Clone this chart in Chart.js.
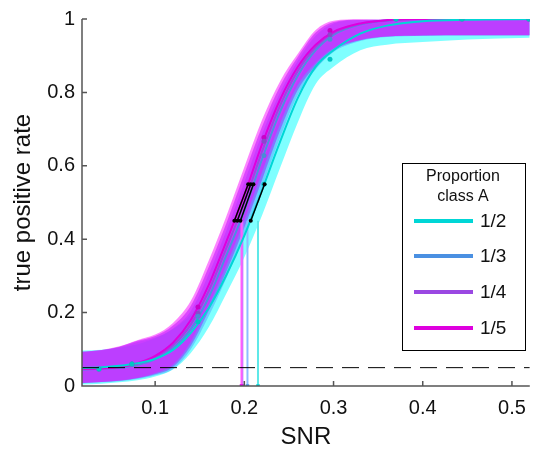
<!DOCTYPE html>
<html>
<head>
<meta charset="utf-8">
<script src="https://cdn.jsdelivr.net/npm/chart.js@4.4.1/dist/chart.umd.min.js"></script>
<style>
  html, body { margin: 0; padding: 0; background: #fff; }
</style>
</head>
<body>
<canvas id="c" width="536" height="450"></canvas>
<script>
// SNR grid used for the fitted curves and their bands
const snrGrid = [0.018, 0.04, 0.06, 0.08, 0.10, 0.12, 0.14, 0.16, 0.18, 0.20, 0.22, 0.24, 0.26, 0.28, 0.30, 0.33, 0.36, 0.40, 0.45, 0.52]

// fitted curves, one per proportion of class A
const fitHalf    = [0.049, 0.051, 0.055, 0.062, 0.074, 0.098, 0.145, 0.212, 0.303, 0.41, 0.535, 0.665, 0.785, 0.87, 0.915, 0.96, 0.982, 0.994, 0.998, 1.0]
const fitThird   = [0.045, 0.047, 0.050, 0.057, 0.073, 0.103, 0.155, 0.241, 0.357, 0.478, 0.619, 0.747, 0.846, 0.915, 0.957, 0.985, 0.996, 1.0, 1.0, 1.0]
const fitQuarter = [0.046, 0.048, 0.051, 0.060, 0.078, 0.111, 0.168, 0.259, 0.377, 0.50, 0.64, 0.764, 0.859, 0.923, 0.961, 0.986, 0.996, 1.0, 1.0, 1.0]
const fitFifth   = [0.046, 0.048, 0.052, 0.062, 0.082, 0.118, 0.18, 0.275, 0.395, 0.52, 0.66, 0.78, 0.87, 0.93, 0.965, 0.988, 0.997, 1.0, 1.0, 1.0]

// confidence bands (upper / lower)
const hiHalf    = [0.097, 0.099, 0.104, 0.114, 0.13, 0.155, 0.195, 0.262, 0.362, 0.479, 0.607, 0.731, 0.832, 0.915, 0.96, 0.99, 0.997, 0.998, 0.998, 0.998]
const loHalf    = [0.004, 0.006, 0.01, 0.016, 0.026, 0.045, 0.09, 0.16, 0.253, 0.351, 0.466, 0.594, 0.719, 0.823, 0.87, 0.915, 0.93, 0.937, 0.944, 0.949]
const hiThird   = [0.093, 0.097, 0.106, 0.12, 0.132, 0.157, 0.205, 0.305, 0.425, 0.556, 0.688, 0.80, 0.887, 0.955, 0.988, 0.997, 0.998, 0.998, 0.998, 0.998]
const loThird   = [0.007, 0.01, 0.013, 0.019, 0.029, 0.046, 0.10, 0.19, 0.295, 0.413, 0.543, 0.676, 0.793, 0.863, 0.91, 0.94, 0.951, 0.954, 0.955, 0.955]
const hiQuarter = [0.093, 0.098, 0.107, 0.123, 0.136, 0.165, 0.219, 0.324, 0.445, 0.578, 0.708, 0.817, 0.897, 0.963, 0.992, 0.998, 0.998, 0.998, 0.998, 0.998]
const loQuarter = [0.008, 0.011, 0.014, 0.021, 0.032, 0.052, 0.11, 0.205, 0.313, 0.432, 0.563, 0.696, 0.807, 0.872, 0.915, 0.942, 0.952, 0.955, 0.956, 0.956]
const hiFifth   = [0.093, 0.098, 0.108, 0.125, 0.14, 0.172, 0.232, 0.341, 0.464, 0.597, 0.726, 0.83, 0.905, 0.97, 0.995, 0.999, 0.998, 0.998, 0.998, 0.998]
const loFifth   = [0.008, 0.011, 0.015, 0.022, 0.035, 0.058, 0.12, 0.22, 0.33, 0.45, 0.583, 0.714, 0.82, 0.88, 0.92, 0.943, 0.952, 0.955, 0.956, 0.956]

// measured points
const snrMeasured = [0.037, 0.074, 0.148, 0.222, 0.296, 0.370, 0.444, 0.519]
const tprHalf    = [0.046, 0.06, 0.175, 0.55, 0.89, 1.0, 1.0, 1.0]
const tprThird   = [0.046, 0.06, 0.19, 0.628, 0.945, 1.0, 1.0, 1.0]
const tprQuarter = [0.046, 0.06, 0.198, 0.667, 0.957, 1.0, 1.0, 1.0]
const tprFifth   = [0.046, 0.06, 0.215, 0.677, 0.969, 1.0, 1.0, 1.0]

// threshold (tpr = 0.5) and slope segment (tpr 0.45 -> 0.55)
const thresholds = [0.2153, 0.2035, 0.1978, 0.1968]
const slopeLowX  = [0.2072, 0.1956, 0.1921, 0.1888]
const slopeHighX = [0.2227, 0.2102, 0.2072, 0.2043]
const slopeLowY = 0.45
const slopeHighY = 0.55
const chanceLevel = 0.05

const groups = ['1/2', '1/3', '1/4', '1/5']
const xTicks = [0.1, 0.2, 0.3, 0.4, 0.5]
const yTicks = [0, 0.2, 0.4, 0.6, 0.8, 1]
const xMin = 0.018
const xMax = 0.52

const lineColors  = ['#00d6d6', '#4a90e2', '#9a48e2', '#de00de']
const bandColors  = ['rgba(0,255,255,0.5)', 'rgba(70,150,255,0.45)', 'rgba(150,60,255,0.6)', 'rgba(250,0,255,0.48)']
const dotColors   = ['#00c4c4', '#4a8cd6', '#8c46cc', '#c800c8']
const vlineColors = ['#5ee8e8', '#8cbcff', '#c080ff', '#ff5cff']

const fits = [fitHalf, fitThird, fitQuarter, fitFifth]
const his = [hiHalf, hiThird, hiQuarter, hiFifth]
const los = [loHalf, loThird, loQuarter, loFifth]
const tprs = [tprHalf, tprThird, tprQuarter, tprFifth]

const pts = (xs, ys) => xs.map((x, i) => ({x: x, y: ys[i]}))

let datasets = []
// bands: lower (no fill) + upper filled down to lower
for (let g = 0; g < 4; g++) {
  let loIndex = datasets.length
  datasets.push({
    data: pts(snrGrid, los[g]), borderWidth: 0, pointRadius: 0, fill: false,
    cubicInterpolationMode: 'monotone', order: 40 - g * 10
  })
  datasets.push({
    data: pts(snrGrid, his[g]), borderWidth: 0, pointRadius: 0,
    backgroundColor: bandColors[g], fill: {target: loIndex},
    cubicInterpolationMode: 'monotone', order: 40 - g * 10
  })
}
// vertical threshold lines
for (let g = 0; g < 4; g++) {
  datasets.push({
    data: [{x: thresholds[g], y: 0}, {x: thresholds[g], y: slopeLowY}],
    borderColor: vlineColors[g], borderWidth: 2, pointRadius: [2.5, 0], pointStyle: 'rect',
    pointBackgroundColor: lineColors[g], pointBorderWidth: 0, order: 9 - g * 0.1
  })
}
// fitted curves (cyan on top)
const curveOrder = [2, 6, 5, 4]
for (let g = 0; g < 4; g++) {
  datasets.push({
    data: pts(snrGrid, fits[g]), borderColor: lineColors[g], borderWidth: 2,
    pointRadius: 0, fill: false, cubicInterpolationMode: 'monotone', order: curveOrder[g]
  })
}
// measured points (cyan drawn last)
for (let g = 0; g < 4; g++) {
  datasets.push({
    data: pts(snrMeasured, tprs[g]), showLine: false, pointRadius: 2.5,
    pointBackgroundColor: dotColors[g], pointBorderWidth: 0, order: 1.2 + g * 0.1
  })
}
// slope segments
for (let g = 0; g < 4; g++) {
  datasets.push({
    data: [{x: slopeLowX[g], y: slopeLowY}, {x: slopeHighX[g], y: slopeHighY}],
    borderColor: '#000', borderWidth: 1.5, pointRadius: 2,
    pointBackgroundColor: '#000', pointBorderWidth: 0, order: 1
  })
}
// chance level
datasets.push({
  data: [{x: xMin, y: chanceLevel}, {x: xMax, y: chanceLevel}],
  borderColor: '#000', borderWidth: 1, borderDash: [17, 9], pointRadius: 0, order: 0.5
})

const FONT = '"Liberation Sans", Arial, Helvetica, sans-serif'

const axesAndLegend = {
  id: 'axesAndLegend',
  afterDatasetsDraw(chart) {
    const ctx = chart.ctx
    const a = chart.chartArea
    const xs = chart.scales.x
    const ys = chart.scales.y
    ctx.save()
    ctx.strokeStyle = '#555'
    ctx.lineWidth = 1.5
    ctx.beginPath()
    ctx.moveTo(a.left, a.top)
    ctx.lineTo(a.left, a.bottom)
    ctx.lineTo(a.right, a.bottom)
    for (let v of xTicks) {
      let px = xs.getPixelForValue(v)
      ctx.moveTo(px, a.bottom)
      ctx.lineTo(px, a.bottom - 5)
    }
    for (let v of yTicks) {
      let py = ys.getPixelForValue(v)
      ctx.moveTo(a.left, py)
      ctx.lineTo(a.left + 5, py)
    }
    ctx.stroke()

    // legend
    const bx = 402.5, by = 163.5, bw = 123, bh = 187
    ctx.fillStyle = '#fff'
    ctx.fillRect(bx, by, bw, bh)
    ctx.lineWidth = 1
    ctx.strokeStyle = '#000'
    ctx.strokeRect(bx, by, bw, bh)
    ctx.fillStyle = '#111'
    ctx.textAlign = 'center'
    ctx.textBaseline = 'middle'
    ctx.font = '16px ' + FONT
    ctx.fillText('Proportion', 463, 177)
    ctx.fillText('class A', 463, 197)
    ctx.font = '19px ' + FONT
    ctx.textAlign = 'left'
    const rowY = [221, 256, 292, 328]
    for (let g = 0; g < groups.length; g++) {
      ctx.strokeStyle = lineColors[g]
      ctx.lineWidth = 4
      ctx.beginPath()
      ctx.moveTo(414, rowY[g])
      ctx.lineTo(473, rowY[g])
      ctx.stroke()
      ctx.fillStyle = '#111'
      ctx.fillText(groups[g], 480, rowY[g] + 1)
    }
    ctx.restore()
  }
}

new Chart(document.getElementById('c'), {
  type: 'line',
  data: {datasets: datasets},
  plugins: [axesAndLegend],
  options: {
    responsive: false,
    animation: false,
    devicePixelRatio: 1,
    events: [],
    layout: {padding: {left: 0, right: 1, top: 18, bottom: 0}},
    plugins: {
      legend: {display: false},
      tooltip: {enabled: false},
      filler: {drawTime: 'beforeDatasetsDraw', propagate: false}
    },
    scales: {
      x: {
        type: 'linear', min: xMin, max: xMax,
        grid: {display: false, drawTicks: false},
        border: {display: false},
        afterBuildTicks: s => { s.ticks = xTicks.map(v => ({value: v})) },
        afterFit: s => { s.height = 64 },
        ticks: {padding: 10, color: '#111', font: {family: FONT, size: 20}, callback: v => String(v)},
        title: {display: true, text: 'SNR', color: '#111', font: {family: FONT, size: 24}, padding: {top: 0, bottom: -2}}
      },
      y: {
        type: 'linear', min: 0, max: 1,
        grid: {display: false, drawTicks: false},
        border: {display: false},
        afterBuildTicks: s => { s.ticks = yTicks.map(v => ({value: v})) },
        afterFit: s => { s.width = 82 },
        ticks: {padding: 7, color: '#111', font: {family: FONT, size: 20}, callback: v => String(v)},
        title: {display: true, text: 'true positive rate', color: '#111', font: {family: FONT, size: 24}, padding: {top: 9, bottom: 0}}
      }
    }
  }
})
</script>
</body>
</html>
